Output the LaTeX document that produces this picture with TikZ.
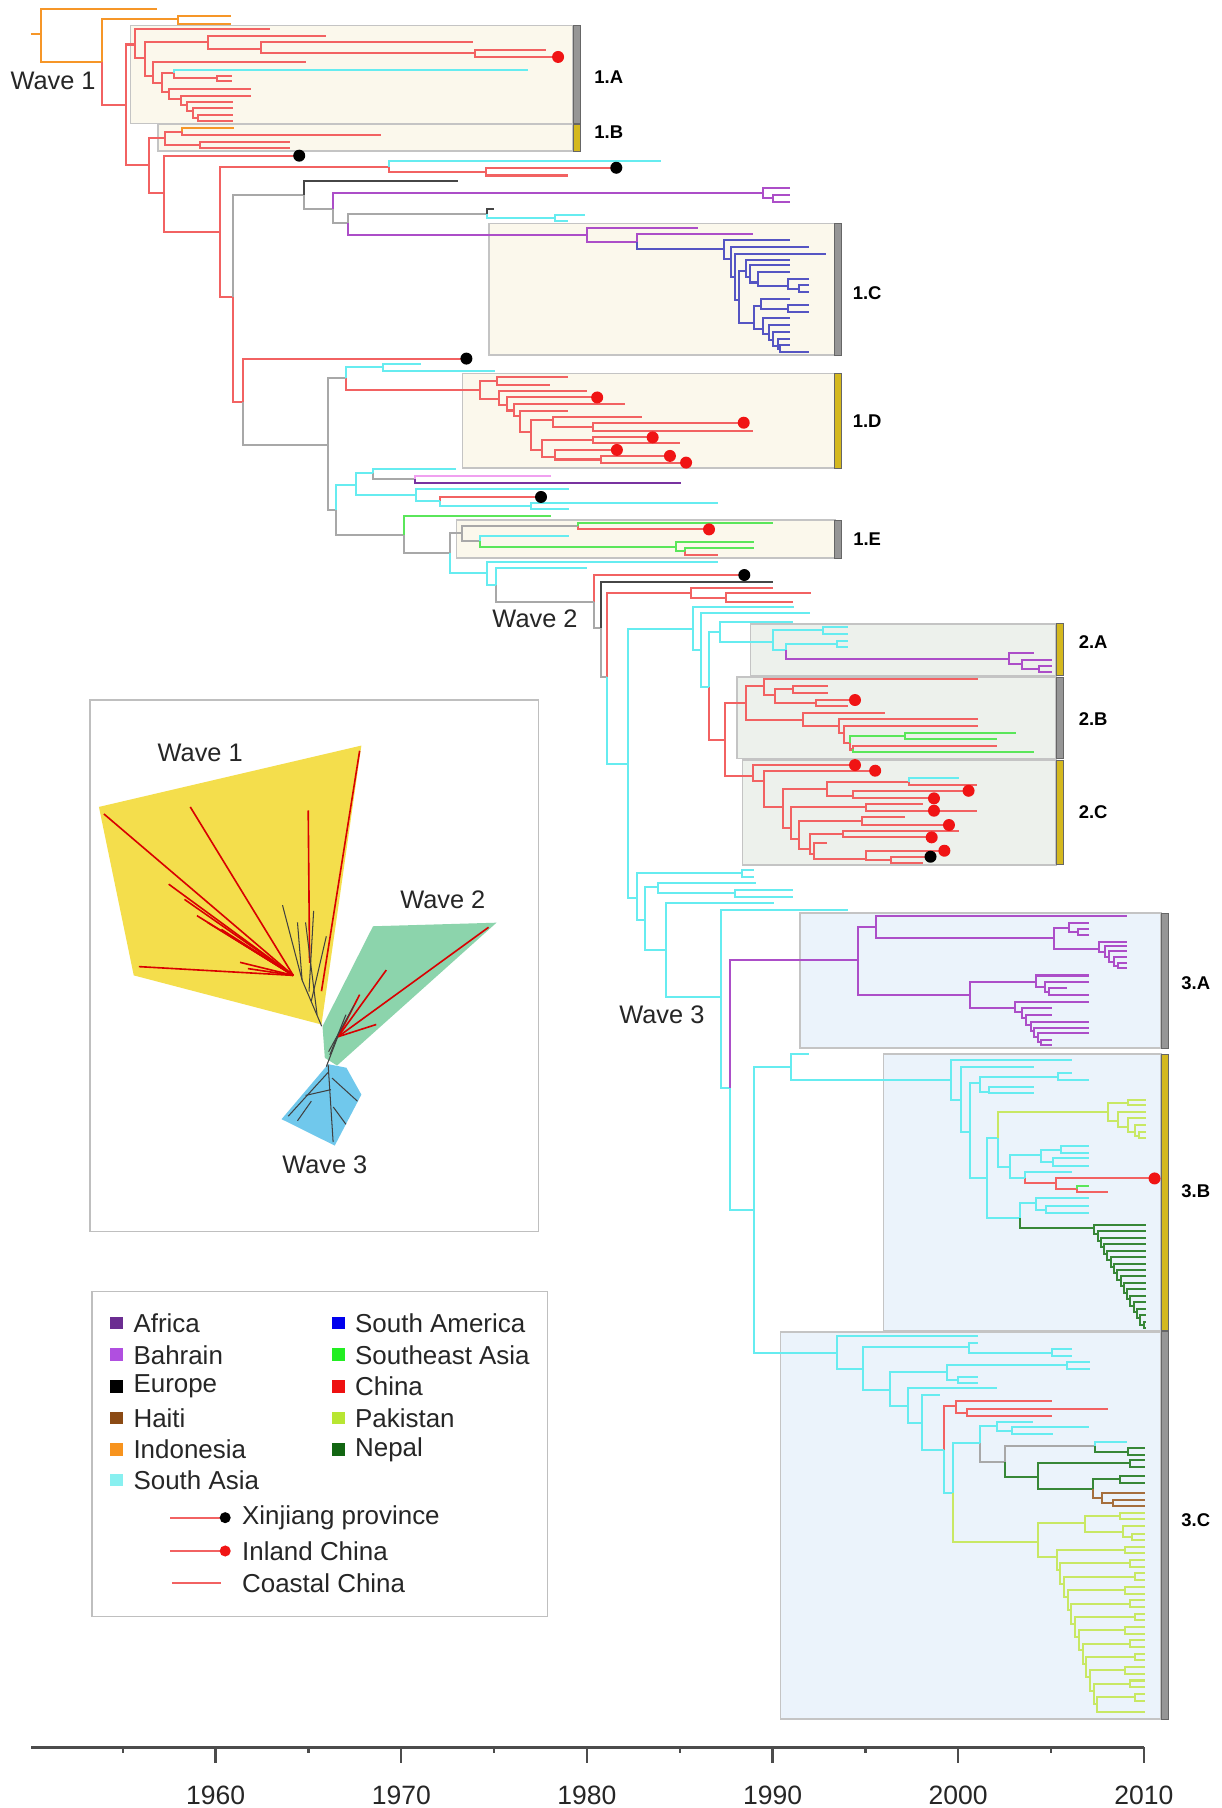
\documentclass[tikz,border=0pt]{standalone}
\usepackage{fontspec}
\setmainfont{Liberation Sans}
\definecolor{chR}{RGB}{242,98,98}
\definecolor{chC}{RGB}{102,236,240}
\definecolor{chO}{RGB}{246,150,40}
\definecolor{chG}{RGB}{168,168,168}
\definecolor{chK}{RGB}{70,70,70}
\definecolor{chP}{RGB}{172,78,200}
\definecolor{chA}{RGB}{120,50,160}
\definecolor{chPk}{RGB}{240,160,240}
\definecolor{chB}{RGB}{85,85,195}
\definecolor{chE}{RGB}{90,230,90}
\definecolor{chY}{RGB}{200,232,100}
\definecolor{chN}{RGB}{55,135,55}
\definecolor{chH}{RGB}{165,110,60}
\definecolor{dotR}{RGB}{240,20,20}
\definecolor{bxW}{RGB}{251,248,236}
\definecolor{bxV}{RGB}{237,241,236}
\definecolor{bxT}{RGB}{235,243,251}
\definecolor{bxE}{RGB}{196,196,196}
\definecolor{barG}{RGB}{150,150,150}
\definecolor{barY}{RGB}{212,184,30}
\definecolor{insY}{RGB}{244,222,76}
\definecolor{insG}{RGB}{140,212,172}
\definecolor{insB}{RGB}{112,200,236}
\definecolor{lgA}{RGB}{107,45,145}
\definecolor{lgBa}{RGB}{176,79,224}
\definecolor{lgH}{RGB}{139,74,20}
\definecolor{lgI}{RGB}{247,147,30}
\definecolor{lgS}{RGB}{136,240,240}
\definecolor{lgSA}{RGB}{0,0,238}
\definecolor{lgSE}{RGB}{34,238,34}
\definecolor{lgC}{RGB}{238,17,17}
\definecolor{lgP}{RGB}{184,230,50}
\definecolor{lgN}{RGB}{18,102,18}
\tikzset{
  br/.style={line width=1.75pt},
  brR/.style={br,draw=chR}, brC/.style={br,draw=chC}, brO/.style={br,draw=chO},
  brG/.style={br,draw=chG}, brK/.style={br,draw=chK}, brP/.style={br,draw=chP},
  brA/.style={br,draw=chA}, brPk/.style={br,draw=chPk}, brB/.style={br,draw=chB},
  brE/.style={br,draw=chE}, brY/.style={br,draw=chY}, brN/.style={br,draw=chN},
  brH/.style={br,draw=chH},
  box1/.style={fill=bxW,draw=bxE,line width=1.3pt},
  box2/.style={fill=bxV,draw=bxE,line width=1.3pt},
  box3/.style={fill=bxT,draw=bxE,line width=1.3pt},
  barg/.style={fill=barG,draw=black!60,line width=0.6pt},
  bary/.style={fill=barY,draw=black!60,line width=0.6pt},
  clab/.style={font=\bfseries\fontsize{16}{18}\selectfont,inner sep=0pt},
  wlab/.style={font=\fontsize{22}{26}\selectfont,text=black!85,inner sep=0pt},
  lgt/.style={font=\fontsize{22.5}{26}\selectfont,text=black!85,inner sep=0pt,anchor=west},
  axt/.style={font=\fontsize{23}{26}\selectfont,text=black!85,inner sep=0pt},
  axl/.style={line width=2pt,draw=black!70},
  irl/.style={line width=1.4pt,draw=red!85!black},
  idk/.style={line width=0.9pt,draw=black!75}
}
\begin{document}
\begin{tikzpicture}[x=1pt,y=-1pt]
\useasboundingbox (0,0) rectangle (1059,1568);
\fill[white] (0,0) rectangle (1059,1568);

% ---------- clade boxes ----------
\foreach \a/\b/\c/\d in {113/22/497/107,137/108/497/131,424/194/724/308,401/324/724/406,396/451/724/484}
  \filldraw[box1] (\a,\b) rectangle (\c,\d);
\foreach \a/\b/\c/\d in {651/541/916/586,639/587/916/658,644/659/916/750}
  \filldraw[box2] (\a,\b) rectangle (\c,\d);
\foreach \a/\b/\c/\d in {694/792/1007/909,766/914/1007/1154,677/1155/1007/1491}
  \filldraw[box3] (\a,\b) rectangle (\c,\d);
\foreach \a/\b/\c/\d in {497/22/503/107,724/194/730/308,724/451/730/484,916/587/922/658,1007/792/1013/909,1007/1155/1013/1491}
  \filldraw[barg] (\a,\b) rectangle (\c,\d);
\foreach \a/\b/\c/\d in {497/108/503/131,724/324/730/406,916/541/922/586,916/659/922/750,1007/914/1013/1154}
  \filldraw[bary] (\a,\b) rectangle (\c,\d);

% ---------- orange ----------
\draw[brO] (26.8,29.9) -- (35.3,29.9);
\foreach \a/\b/\c/\d in {35.3/29.9/135.8/8,35.3/29.9/88.8/54,88.8/54/154.6/16.8,154.6/16.8/200.6/14.3,154.6/16.8/200.6/20.5,157.6/114.2/203/111.3}
  \draw[brO] (\a,\b) |- (\c,\d);

% ---------- red ----------
\foreach \a/\b/\c/\d in {88.8/54/109.3/91,109.3/91/117.1/38.6,109.3/91/129.5/143.1,
 117.1/38.6/234/25.5,117.1/38.6/125.6/50.2,125.6/50.2/180.1/36.6,180.1/36.6/282.3/31.3,180.1/36.6/226.1/42.1,
 226.1/42.1/410.1/36.6,226.1/42.1/411.8/45.9,411.8/45.9/473.1/43,411.8/45.9/484/49.4,
 125.6/50.2/132.4/65.7,132.4/65.7/265.3/54,132.4/65.7/140.9/72.1,140.9/72.1/151.2/63.5,151.2/63.5/188.6/67.7,
 188.6/67.7/201.2/65.7,188.6/67.7/201.2/70.5,140.9/72.1/146.7/80,146.7/80/217.6/77.3,146.7/80/157/86,
 157/86/217.6/83.1,157/86/162.4/91,162.4/91/202/88.1,162.4/91/167.2/96.5,167.2/96.5/202/93.9,
 167.2/96.5/171.6/102,171.6/102/202/99.7,171.6/102/202/104.7,
 129.5/143.1/143.1/120,143.1/120/157.6/114.2,157.6/114.2/330/117.1,143.1/120/173.5/125.8,
 173.5/125.8/251.5/122.9,173.5/125.8/251.5/128.6,129.5/143.1/142.2/167.7,142.2/167.7/259.5/135,
 142.2/167.7/190.8/200.9,190.8/200.9/337.5/144.5,337.5/144.5/421.4/148.8,421.4/148.8/534.5/145.5,
 421.4/148.8/492.8/152.2,190.8/200.9/201.8/257.9,201.8/257.9/210.5/348.4,210.5/348.4/404.5/311,
 300/328.2/416.6/338.3,
 416.6/338.3/430.6/330.5,430.6/330.5/492.8/327.3,430.6/330.5/476.6/334,416.6/338.3/432.5/346,
 432.5/346/508.7/339,432.5/346/439.8/351,439.8/351/517.9/344.7,439.8/351/446.1/356,446.1/356/541.8/350.4,
 446.1/356/450.9/361,450.9/361/492.8/356.2,450.9/361/460.8/375,460.8/375/479.2/364,479.2/364/556.5/361.4,
 479.2/364/514.2/370,514.2/370/645/366.6,514.2/370/653.3/373.5,460.8/375/470/390,470/390/514.2/382,
 514.2/382/566/379.3,514.2/382/589.7/384.5,470/390/481.1/396,481.1/396/535/390.2,481.1/396/521.5/398.5,
 521.5/398.5/581/395.4,521.5/398.5/595/401.2,
 381.6/434.5/469.2/431,501.4/456.2/614.9/459.1,594.3/478/622.8/481.3,
 515/521.8/645.5/498.7,526.2/587.2/599/514.6,599/514.6/670.3/510.3,599/514.6/630/519,630/519/703.7/514.6,
 630/519/687.3/521.8,
 614.5/595.6/628.5/641.8,628.5/641.8/647.1/610,647.1/610/662.5/595,662.5/595/848.4/589.2,662.5/595/671.8/603,
 671.8/603/687.3/597.8,687.3/597.8/718.3/595,687.3/597.8/718.3/600.8,671.8/603/707.5/609.7,
 707.5/609.7/741.5/607.1,707.5/609.7/735.4/612.3,647.1/610/696.6/624.5,696.6/624.5/767.9/618.1,
 696.6/624.5/727.6/630,727.6/630/848.4/623.9,727.6/630/732.3/636,732.3/636/848.4/629.7,
 736.9/644/740/650,740/650/864.8/646.7,
 628.5/641.8/653.3/673,653.3/673/741.5/663.5,653.3/673/662.5/677,662.5/677/759/668.4,662.5/677/679/700,
 679/700/716.8/684,716.8/684/788/678,788/678/847.5/680.8,716.8/684/740/690,740/690/840/685.8,
 740/690/810/692.4,679/700/685.8/718,685.8/718/750.8/700,750.8/700/800.4/697.5,750.8/700/847.5/703.1,
 685.8/718/692.6/728,692.6/728/747.7/712,747.7/712/785/708.9,747.7/712/823/715.5,692.6/728/702.8/736,
 702.8/736/730.7/723,730.7/723/831.4/720.4,730.7/723/808/726.2,702.8/736/705.9/741,705.9/741/716.8/730.9,
 705.9/741/750.8/745,750.8/745/819/737.8,750.8/745/772.5/745.6,772.5/745.6/807/743,772.5/745.6/800.4/748.2,
 889.1/1022/916/1026.3,916/1026.3/1001.3/1022,916/1026.3/934/1031.5,934/1031.5/960.9/1033.5,
 818.7/1257.5/829.1/1219.4,829.1/1219.4/912.1/1214.8,829.1/1219.4/838.4/1225.2,838.4/1225.2/961.3/1222.3,
 838.4/1225.2/912.1/1228.1}
  \draw[brR] (\a,\b) |- (\c,\d);
\draw[brR] (732.3,636) |- (736.9,644);

% ---------- grey / dark ----------
\foreach \a/\b/\c/\d in {201.8/257.9/264/169.1,264/169.1/288.5/181,288.5/181/301.5/193.7,301.5/193.7/422.2/185.3,
 210.5/348.4/284.1/386,284.1/386/300/328.2,284.1/386/291.1/442.3,323.3/410.5/359.5/415.7,291.1/442.3/350.1/464,
 350.1/464/390.1/479.9,390.1/479.9/400.5/462.5,400.5/462.5/501.4/456.2,400.5/462.5/416.3/469.6,
 430.5/507.4/515/521.8,515/521.8/521.6/544.4,521.6/544.4/526.2/587.2,850/1251.8/871.6/1267.7,
 871.6/1267.7/949.7/1254.1}
  \draw[brG] (\a,\b) |- (\c,\d);
\foreach \a/\b/\c/\d in {264/169.1/397.1/157,422.2/185.3/428/181.5,521.6/544.4/670.3/504.5}
  \draw[brK] (\a,\b) |- (\c,\d);

% ---------- cyan ----------
\foreach \a/\b/\c/\d in {151.2/63.5/457.8/60.4,337.5/144.5/573.1/139.7,422.2/185.3/481/189,481/189/507.6/186.3,
 481/189/492.8/192,300/328.2/332/318.7,332/318.7/365/316.1,332/318.7/429.5/321.6,291.1/442.3/309.1/420.6,
 309.1/420.6/323.3/410.5,323.3/410.5/395.8/407,309.1/420.6/361.1/429.3,361.1/429.3/493.5/424.4,
 361.1/429.3/381.6/434.5,381.6/434.5/460.4/438.8,460.4/438.8/622.8/436,460.4/438.8/493.5/441.7,
 416.3/469.6/493.5/464.9,390.1/479.9/422.6/497.2,422.6/497.2/622.8/487.1,422.6/497.2/430.5/507.4,
 430.5/507.4/509.3/492.9,
 526.2/587.2/544.8/662.4,544.8/662.4/600.6/545.9,600.6/545.9/688.9/526.2,600.6/545.9/608.3/563.8,
 608.3/563.8/702.8/531.4,608.3/563.8/614.5/595.6,614.5/595.6/624.7/547.9,624.7/547.9/687.3/539.2,
 624.7/547.9/670.3/556.5,670.3/556.5/713.7/546.4,713.7/546.4/735.4/543.5,713.7/546.4/735.4/549.9,
 670.3/556.5/682/563.8,682/563.8/726/558.5,726/558.5/735.4/555.7,726/558.5/735.4/561.4,
 788/678/831.4/675.1,
 544.8/662.4/552.1/778.8,552.1/778.8/643.1/757.5,643.1/757.5/653.7/754.6,643.1/757.5/653.7/760.4,
 552.1/778.8/559.7/798,559.7/798/570.4/769,570.4/769/655.5/766.1,570.4/769/637/774.8,637/774.8/687.4/771.9,
 637/774.8/687.4/777.7,559.7/798/577.5/824,577.5/824/671.4/783.5,577.5/824/625.3/865,625.3/865/735.3/789.3,
 625.3/865/632.8/943.4,632.8/943.4/654.2/1049.4,
 654.2/1049.4/685.6/925.1,685.6/925.1/702/914.1,685.6/925.1/824.8/936.7,824.8/936.7/929.5/919.3,
 824.8/936.7/833.7/954,833.7/954/896.6/925.1,833.7/954/841.2/981.5,841.2/981.5/850.2/939.6,
 850.2/939.6/917.5/933.8,917.5/933.8/929.5/930.9,917.5/933.8/944.5/936.7,850.2/939.6/857.7/946.8,
 857.7/946.8/896.6/943,857.7/946.8/896.6/948.3,841.2/981.5/856.2/1022,856.2/1022/865.2/987.3,
 865.2/987.3/875.6/1011.9,875.6/1011.9/902.6/1001.7,902.6/1001.7/920.5/997.4,920.5/997.4/944.5/994,
 920.5/997.4/944.5/999.7,902.6/1001.7/913.1/1007.5,913.1/1007.5/944.5/1004.6,913.1/1007.5/944.5/1011.3,
 875.6/1011.9/889.1/1022,889.1/1022/929.5/1016.2,856.2/1022/884.6/1056.7,884.6/1056.7/898.1/1043.7,
 898.1/1043.7/944.5/1039.3,898.1/1043.7/907.1/1049.4,907.1/1049.4/944.5/1046,907.1/1049.4/944.5/1051.8,
 654.2/1049.4/725.6/1173.1,725.6/1173.1/848.5/1158.7,725.6/1173.1/748.8/1187.6,748.8/1187.6/840.7/1168.5,
 840.7/1168.5/848.5/1165,840.7/1168.5/912.1/1173.7,912.1/1173.7/929.5/1170.2,912.1/1173.7/929.5/1176,
 748.8/1187.6/771.9/1205.5,771.9/1205.5/821/1189.6,821/1189.6/925.1/1183.8,925.1/1183.8/945.4/1180.9,
 925.1/1183.8/945.4/1187.6,821/1189.6/831.2/1196.8,831.2/1196.8/848.5/1194,831.2/1196.8/848.5/1199.2,
 771.9/1205.5/787.8/1219.4,787.8/1219.4/864.4/1204.1,787.8/1219.4/799.4/1234.4,799.4/1234.4/815.3/1209.8,
 799.4/1234.4/818.7/1257.5,818.7/1257.5/826.8/1295.1,826.8/1295.1/850/1251.8,850/1251.8/864.4/1236.7,
 864.4/1236.7/896.2/1233,864.4/1236.7/878/1240.8,878/1240.8/944.8/1237.9,878/1240.8/913.5/1243.7,
 949.7/1254.1/977.2/1250.3}
  \draw[brC] (\a,\b) |- (\c,\d);

% ---------- purple / pink / africa ----------
\foreach \a/\b/\c/\d in {288.5/181/661.4/167.4,661.4/167.4/685.4/162.8,661.4/167.4/670.6/172,670.6/172/685.4/168.8,
 670.6/172/685.4/175.4,301.5/193.7/508.7/204.1,508.7/204.1/605.5/197.5,508.7/204.1/552.8/210,552.8/210/653.3/202.7,
 682/563.8/874.8/571.9,874.8/571.9/896.4/566.6,874.8/571.9/886.5/576,886.5/576/912/572.4,886.5/576/901.1/580,
 901.1/580/912/577.6,901.1/580/912/582.5,
 632.8/943.4/744.1/832.6,744.1/832.6/760.1/803.7,760.1/803.7/977.5/794.5,760.1/803.7/914.3/813.8,
 914.3/813.8/926.7/805,926.7/805/944.5/800.3,926.7/805/935/808.5,935/808.5/944.5/806,935/808.5/944.5/811,
 914.3/813.8/953.3/823.4,953.3/823.4/977.5/816.7,953.3/823.4/958/826,958/826/977.5/820.5,958/826/962/830,
 962/830/977.5/824.5,962/830/966/834,966/834/977.5/829.7,966/834/970/837.5,970/837.5/977.5/835.5,
 970/837.5/977.5/839.9,744.1/832.6/841.6/863,841.6/863/898.4/851.4,898.4/851.4/944.5/846,898.4/851.4/906/856,
 906/856/944.5/851.5,906/856/910/860,910/860/925/857.2,910/860/944.5/863,841.6/863/880.6/874.5,
 880.6/874.5/944.5/868.8,880.6/874.5/886/878,886/878/912.6/874.5,886/878/890/883,890/883/912.6/880.3,
 890/883/894/889,894/889/944.5/886.1,894/889/897/894,897/894/944.5/891.9,897/894/900/899,900/899/944.5/896.2,
 900/899/903/904,903/904/912.6/902,903/904/912.6/906.3}
  \draw[brP] (\a,\b) |- (\c,\d);
\draw[brA] (359.5,415.7) |- (590.6,418.6);
\draw[brPk] (359.5,415.7) |- (477.8,412.8);

% ---------- blue (1.C) ----------
\foreach \a/\b/\c/\d in {552.8/210/628.3/216.2,628.3/216.2/685.4/207.9,628.3/216.2/633.8/225,633.8/225/701.9/214.2,
 633.8/225/637.5/240,637.5/240/716.6/220,637.5/240/641.2/260,641.2/260/646.7/235,646.7/235/685.4/225.2,
 646.7/235/650.4/240,650.4/240/685.4/230.1,650.4/240/657.7/245,657.7/245/685.4/235.8,657.7/245/683.6/248,
 683.6/248/701.9/241.6,683.6/248/692.8/250.3,692.8/250.3/701.9/247.4,692.8/250.3/701.9/253.2,
 641.2/260/654.1/280,654.1/280/660/265,660/265/685.4/259,660/265/683.6/267.6,683.6/267.6/701.9/264.7,
 683.6/267.6/701.9/270.5,654.1/280/661.4/285,661.4/285/685.4/276.2,661.4/285/666.9/290,666.9/290/685.4/282,
 666.9/290/670.6/295,670.6/295/685.4/287.8,670.6/295/674.3/300,674.3/300/685.4/293.6,674.3/300/676.1/302.5,
 676.1/302.5/685.4/299.3,676.1/302.5/701.9/305.1}
  \draw[brB] (\a,\b) |- (\c,\d);

% ---------- SE Asia green ----------
\foreach \a/\b/\c/\d in {350.1/464/477.8/447.5,501.4/456.2/670.1/453.3,416.3/469.6/586.5/474.7,586.5/474.7/654.3/469.8,
 586.5/474.7/594.3/478,594.3/478/654.3/475.6,736.9/644/784.9/638.3,784.9/638.3/881/635.5,784.9/638.3/864.8/641.2,
 740/650/896.4/652.5,934/1031.5/944.5/1028.6}
  \draw[brE] (\a,\b) |- (\c,\d);

% ---------- Pakistan ----------
\foreach \a/\b/\c/\d in {865.2/987.3/960.9/964.2,960.9/964.2/978/956.2,978/956.2/993.9/954,978/956.2/993.9/958.4,
 960.9/964.2/970/972,970/972/993.9/964.2,970/972/978/977,978/977/993.9/970,978/977/984/982,984/982/993.9/975.7,
 984/982/988/985,988/985/993.9/981.5,988/985/993.9/987.3,
 826.8/1295.1/900.5/1337,900.5/1337/941/1321.2,941/1321.2/971.4/1314.8,971.4/1314.8/993.1/1311.9,
 971.4/1314.8/993.1/1317.7,941/1321.2/974.3/1328.5,974.3/1328.5/993.1/1323.5,974.3/1328.5/982/1333,
 982/1333/993.1/1330,982/1333/993.1/1335.6,900.5/1337/916.4/1350.1}
  \draw[brY] (\a,\b) |- (\c,\d);
\foreach \j in {0,...,11}{
  \pgfmathsetmacro\m{1344.3+11.6*\j}
  \pgfmathsetmacro\bx{916.4+3.2*\j}
  \pgfmathsetmacro\by{\m+5.8}
  \pgfmathsetmacro\cx{976+mod(\j,3)*4}
  \draw[brY] (\bx,\by) |- (\cx,\m);
  \draw[brY] (\cx,\m) |- (993.1,{\m-2.9});
  \draw[brY] (\cx,\m) |- (993.1,{\m+2.9});
  \ifnum\j<11 \draw[brY] (\bx,\by) |- ({\bx+3.2},{\by+11.6}); \fi
}
\draw[brY] (951.6,1477.7) |- (993.1,1484.5);

% ---------- Nepal / Haiti ----------
\draw[brN] (884.6,1056.7) |- (949,1065);
\foreach \k in {0,...,14}{
  \draw[brN] ({949+2.85*\k},{1065+5.6*\k}) |- (993.9,{1062.2+5.6*\k});
  \draw[brN] ({949+2.85*\k},{1065+5.6*\k}) |- ({951.85+2.85*\k},{1070.6+5.6*\k});
}
\draw[brN] (991.75,1149) |- (993.9,1146.1);
\draw[brN] (991.75,1149) |- (993.9,1151.9);
\foreach \a/\b/\c/\d in {949.7/1254.1/978.6/1259,978.6/1259/993.1/1256.1,978.6/1259/993.1/1261.9,
 871.6/1267.7/900.5/1280.7,900.5/1280.7/980/1269.1,980/1269.1/993.1/1266.3,980/1269.1/993.1/1271.9,
 900.5/1280.7/948.2/1291.7,948.2/1291.7/971.4/1283,971.4/1283/993.1/1279.9,971.4/1283/993.1/1286.1}
  \draw[brN] (\a,\b) |- (\c,\d);
\foreach \a/\b/\c/\d in {948.2/1291.7/955.5/1299.5,955.5/1299.5/993.1/1295.1,955.5/1299.5/965.6/1303.5,
 965.6/1303.5/993.1/1300.9,965.6/1303.5/993.1/1306.1}
  \draw[brH] (\a,\b) |- (\c,\d);

% ---------- tip dots ----------
\foreach \p/\q in {484/49.4,517.9/344.7,645/366.6,566/379.3,535/390.2,581/395.4,595/401.2,614.9/459.1,
 741.5/607.1,741.5/663.5,759/668.4,840/685.8,810/692.4,810/703.1,823/715.5,808/726.2,819/737.8,1001.3/1022}
  \fill[dotR] (\p,\q) circle (5.2pt);
\foreach \p/\q in {259.5/135,534.5/145.5,404.5/311,469.2/431,645.5/498.7,807/743}
  \fill[black] (\p,\q) circle (5.2pt);

% ---------- labels ----------
\node[clab] (l1a) at (528,67) {1.A};
\node[clab] (l1b) at (528,115) {1.B};
\node[clab] (l1c) at (752,254) {1.C};
\node[clab] (l1d) at (752,365) {1.D};
\node[clab] (l1e) at (752,468) {1.E};
\node[clab] (l2a) at (948,557) {2.A};
\node[clab] (l2b) at (948,624) {2.B};
\node[clab] (l2c) at (948,704) {2.C};
\node[clab] (l3a) at (1037,853) {3.A};
\node[clab] (l3b) at (1037,1033) {3.B};
\node[clab] (l3c) at (1037,1318) {3.C};
\node[wlab] (w1) at (46,70) {Wave 1};
\node[wlab] (w2) at (464,537) {Wave 2};
\node[wlab] (w3) at (574,880) {Wave 3};

% ---------- inset ----------
\draw[draw=black!25,line width=1.3pt,fill=white] (78,607) rectangle (467,1068);
\fill[insY] (85.8,699.8) -- (313.4,646.6) -- (278.8,888.5) -- (116,845.9) -- cycle;
\fill[insG] (323.5,803.3) -- (430.6,800.2) -- (292.3,924.1) -- (281.7,917.4) -- (279.7,890) -- cycle;
\fill[insB] (284.6,922.9) -- (300.4,926) -- (313.4,949.3) -- (290.3,993.5) -- (244.2,970.6) -- cycle;
\foreach \p/\q in {90.1/705.9,165/699.8,146.3/766.8,170.8/794.1,120.4/838.3,208.2/834.6,180/800,192/806,200/812,160/780,215/840}
  \draw[irl] (254.3,845.9) -- (\p,\q);
\draw[irl] (267.3,702.9) -- (268.5,835);
\draw[irl] (311.9,651.1) -- (278.8,859.6);
\draw[idk] (279,890) -- (262,850) -- (245,785);
\draw[idk] (262,850) -- (258,800);
\draw[idk] (270,868) -- (283,812);
\draw[idk] (268,860) -- (272,790);
\draw[idk] (275,880) -- (265,800);
\foreach \p/\q in {423.7/804.2,335/841.3,326.3/888.5,311.9/862.6}
  \draw[irl] (293.2,899.1) -- (\p,\q);
\draw[idk] (283,925) -- (293,899);
\draw[idk] (286,915) -- (300,880);
\draw[idk] (285,912) -- (307,872);
\draw[idk] (284.6,923.5) -- (288.9,990.4);
\draw[idk] (284.6,930) -- (250,968);
\draw[idk] (288,935) -- (310,955);
\draw[idk] (287,945) -- (265,950);
\draw[idk] (289,960) -- (300,975);
\draw[idk] (270,955) -- (258,972);
\node[wlab] (iw1) at (173.6,652.6) {Wave 1};
\node[wlab] (iw2) at (384,780.5) {Wave 2};
\node[wlab] (iw3) at (281.7,1010) {Wave 3};

% ---------- legend ----------
\draw[draw=black!25,line width=1.3pt,fill=white] (80,1120) rectangle (475,1402);
\foreach \c/\y in {lgA/1147.4,lgBa/1174.9,black/1202.3,lgH/1229.7,lgI/1257.1,lgS/1283.6}
  \fill[\c] (95.3,{\y-5.5}) rectangle (106.3,{\y+5.5});
\foreach \c/\y in {lgSA/1147.4,lgSE/1174.9,lgC/1202.3,lgP/1229.7,lgN/1257.1}
  \fill[\c] (287.8,{\y-5.5}) rectangle (298.8,{\y+5.5});
\node[lgt] (la1) at (115.6,1147.4) {Africa};
\node[lgt] (la2) at (115.6,1174.9) {Bahrain};
\node[lgt] (la3) at (115.6,1202.3) {Europe};
\node[lgt] (la4) at (115.6,1229.7) {Haiti};
\node[lgt] (la5) at (115.6,1257.1) {Indonesia};
\node[lgt] (la6) at (115.6,1283.6) {South Asia};
\node[lgt] (lb1) at (307.8,1147.4) {South America};
\node[lgt] (lb2) at (307.8,1174.9) {Southeast Asia};
\node[lgt] (lb3) at (307.8,1202.3) {China};
\node[lgt] (lb4) at (307.8,1229.7) {Pakistan};
\node[lgt] (lb5) at (307.8,1257.1) {Nepal};
\draw[brR] (147.5,1316.2) -- (195.3,1316.2);
\fill[black] (195.3,1316.2) circle (4.8pt);
\draw[brR] (147.5,1345.1) -- (195.3,1345.1);
\fill[dotR] (195.3,1345.1) circle (4.8pt);
\draw[brR] (149,1373.1) -- (192,1373.1);
\node[lgt] (lx) at (209.8,1316.2) {Xinjiang province};
\node[lgt] (li) at (209.8,1345.1) {Inland China};
\node[lgt] (lc) at (209.8,1373.1) {Coastal China};

% ---------- axis ----------
\draw[axl] (27,1515.5) -- (992,1515.5);
\foreach \yr in {1960,1970,...,2010}{
  \draw[axl] ({187+(\yr-1960)*16.1},1515.5) -- ++(0,13.3);
  \node[axt] at ({187+(\yr-1960)*16.1},1556.8) {\yr};
}
\foreach \yr in {1955,1965,...,2005}
  \draw[axl] ({187+(\yr-1960)*16.1},1515.5) -- ++(0,5.2);
\end{tikzpicture}
\end{document}
